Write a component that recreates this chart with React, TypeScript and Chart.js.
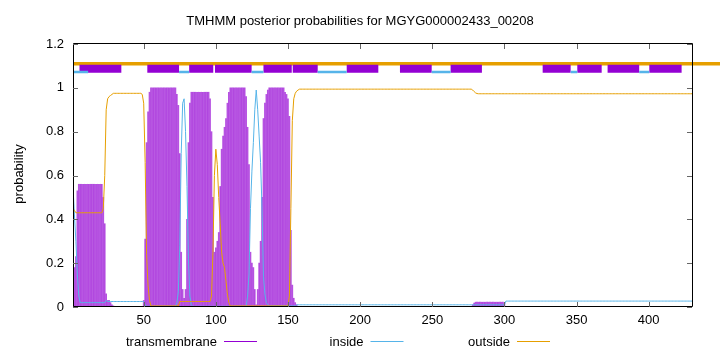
import { useEffect, useRef } from "react";
import { Chart, registerables } from "chart.js";

Chart.register(...registerables);

const TITLE = "TMHMM posterior probabilities for MGYG000002433_00208";
const Y_LABEL = "probability";
const SERIES_NAMES = ["transmembrane", "inside", "outside"];
const X_TICKS = [50, 100, 150, 200, 250, 300, 350, 400];
const Y_TICKS = [0, 0.2, 0.4, 0.6, 0.8, 1, 1.2];
const X_MIN = 1;
const X_MAX = 430;

// per-residue posterior probabilities, residues 1..430 (10 per row)
const TRANSMEMBRANE = [
  /*   1 */ 0.15, 0.18, 0.23, 0.53, 0.56, 0.56, 0.56, 0.56, 0.56, 0.56,
  /*  11 */ 0.56, 0.56, 0.56, 0.56, 0.56, 0.56, 0.56, 0.56, 0.56, 0.56,
  /*  21 */ 0.56, 0.5, 0.38, 0.06, 0.03, 0.03, 0.02, 0.01, 0.005, 0,
  /*  31 */ 0, 0, 0, 0, 0, 0, 0, 0, 0, 0,
  /*  41 */ 0, 0, 0, 0, 0, 0, 0, 0, 0, 0.03,
  /*  51 */ 0.31, 0.75, 0.89, 0.98, 1, 1, 1, 1, 1, 1,
  /*  61 */ 1, 1, 1, 1, 1, 1, 1, 1, 1, 1,
  /*  71 */ 1, 1, 0.97, 0.92, 0.7, 0.25, 0.08, 0.04, 0.08, 0.4,
  /*  81 */ 0.75, 0.93, 0.98, 0.98, 0.98, 0.98, 0.98, 0.98, 0.98, 0.98,
  /*  91 */ 0.98, 0.98, 0.98, 0.98, 0.98, 0.95, 0.8, 0.5, 0.25, 0.27,
  /* 101 */ 0.3, 0.34, 0.55, 0.72, 0.78, 0.82, 0.86, 0.93, 0.98, 1,
  /* 111 */ 1, 1, 1, 1, 1, 1, 1, 1, 1, 1,
  /* 121 */ 0.96, 0.82, 0.65, 0.25, 0.2, 0.18, 0.08, 0.01, 0.08, 0.2,
  /* 131 */ 0.3, 0.5, 0.86, 0.93, 0.97, 0.99, 1, 1, 1, 1,
  /* 141 */ 1, 1, 1, 1, 1, 1, 1, 0.98, 0.97, 0.95,
  /* 151 */ 0.87, 0.35, 0.1, 0.04, 0.02, 0.01, 0, 0, 0, 0,
  /* 161 */ 0, 0, 0, 0, 0, 0, 0, 0, 0, 0,
  /* 171 */ 0, 0, 0, 0, 0, 0, 0, 0, 0, 0,
  /* 181 */ 0, 0, 0, 0, 0, 0, 0, 0, 0, 0,
  /* 191 */ 0, 0, 0, 0, 0, 0, 0, 0, 0, 0,
  /* 201 */ 0, 0, 0, 0, 0, 0, 0, 0, 0, 0,
  /* 211 */ 0, 0, 0, 0, 0, 0, 0, 0, 0, 0,
  /* 221 */ 0, 0, 0, 0, 0, 0, 0, 0, 0, 0,
  /* 231 */ 0, 0, 0, 0, 0, 0, 0, 0, 0, 0,
  /* 241 */ 0, 0, 0, 0, 0, 0, 0, 0, 0, 0,
  /* 251 */ 0, 0, 0, 0, 0, 0, 0, 0, 0, 0,
  /* 261 */ 0, 0, 0, 0, 0, 0, 0, 0, 0, 0,
  /* 271 */ 0, 0, 0, 0, 0, 0, 0, 0.01, 0.018, 0.022,
  /* 281 */ 0.022, 0.022, 0.022, 0.022, 0.022, 0.022, 0.022, 0.022, 0.022, 0.022,
  /* 291 */ 0.022, 0.022, 0.022, 0.022, 0.022, 0.022, 0.022, 0.022, 0.022, 0.015,
  /* 301 */ 0, 0, 0, 0, 0, 0, 0, 0, 0, 0,
  /* 311 */ 0, 0, 0, 0, 0, 0, 0, 0, 0, 0,
  /* 321 */ 0, 0, 0, 0, 0, 0, 0, 0, 0, 0,
  /* 331 */ 0, 0, 0, 0, 0, 0, 0, 0, 0, 0,
  /* 341 */ 0, 0, 0, 0, 0, 0, 0, 0, 0, 0,
  /* 351 */ 0, 0, 0, 0, 0, 0, 0, 0, 0, 0,
  /* 361 */ 0, 0, 0, 0, 0, 0, 0, 0, 0, 0,
  /* 371 */ 0, 0, 0, 0, 0, 0, 0, 0, 0, 0,
  /* 381 */ 0, 0, 0, 0, 0, 0, 0, 0, 0, 0,
  /* 391 */ 0, 0, 0, 0, 0, 0, 0, 0, 0, 0,
  /* 401 */ 0, 0, 0, 0, 0, 0, 0, 0, 0, 0,
  /* 411 */ 0, 0, 0, 0, 0, 0, 0, 0, 0, 0,
  /* 421 */ 0, 0, 0, 0, 0, 0, 0, 0, 0, 0,
];

const INSIDE = [
  /*   1 */ 0.55, 0.42, 0.3, 0.15, 0.05, 0.02, 0.02, 0.02, 0.02, 0.02,
  /*  11 */ 0.02, 0.02, 0.02, 0.02, 0.02, 0.02, 0.02, 0.02, 0.02, 0.02,
  /*  21 */ 0.02, 0.02, 0.02, 0.03, 0.025, 0.025, 0.025, 0.025, 0.025, 0.025,
  /*  31 */ 0.025, 0.025, 0.025, 0.025, 0.025, 0.025, 0.025, 0.025, 0.025, 0.025,
  /*  41 */ 0.025, 0.025, 0.025, 0.025, 0.025, 0.025, 0.025, 0.025, 0.025, 0.025,
  /*  51 */ 0.01, 0.003, 0.003, 0.003, 0.003, 0.003, 0.003, 0.003, 0.003, 0.003,
  /*  61 */ 0.003, 0.003, 0.003, 0.003, 0.003, 0.003, 0.003, 0.003, 0.003, 0.003,
  /*  71 */ 0.003, 0.003, 0.02, 0.07, 0.28, 0.7, 0.93, 0.95, 0.8, 0.55,
  /*  81 */ 0.22, 0.05, 0.01, 0.003, 0.003, 0.003, 0.003, 0.003, 0.003, 0.003,
  /*  91 */ 0.003, 0.003, 0.003, 0.003, 0.003, 0.003, 0.003, 0.003, 0.003, 0.003,
  /* 101 */ 0.003, 0.003, 0.003, 0.003, 0.003, 0.003, 0.003, 0.003, 0.003, 0.003,
  /* 111 */ 0.003, 0.003, 0.003, 0.003, 0.003, 0.003, 0.003, 0.003, 0.003, 0.003,
  /* 121 */ 0.003, 0.05, 0.15, 0.45, 0.62, 0.75, 0.9, 0.99, 0.9, 0.78,
  /* 131 */ 0.66, 0.45, 0.14, 0.06, 0.02, 0.01, 0.005, 0.005, 0.005, 0.005,
  /* 141 */ 0.005, 0.005, 0.005, 0.005, 0.005, 0.005, 0.005, 0.005, 0.005, 0.005,
  /* 151 */ 0.005, 0.005, 0.005, 0.005, 0.005, 0.01, 0.01, 0.01, 0.01, 0.01,
  /* 161 */ 0.01, 0.01, 0.01, 0.01, 0.01, 0.01, 0.01, 0.01, 0.01, 0.01,
  /* 171 */ 0.01, 0.01, 0.01, 0.01, 0.01, 0.01, 0.01, 0.01, 0.01, 0.01,
  /* 181 */ 0.01, 0.01, 0.01, 0.01, 0.01, 0.01, 0.01, 0.01, 0.01, 0.01,
  /* 191 */ 0.01, 0.01, 0.01, 0.01, 0.01, 0.01, 0.01, 0.01, 0.01, 0.01,
  /* 201 */ 0.01, 0.01, 0.01, 0.01, 0.01, 0.01, 0.01, 0.01, 0.01, 0.01,
  /* 211 */ 0.01, 0.01, 0.01, 0.01, 0.01, 0.01, 0.01, 0.01, 0.01, 0.01,
  /* 221 */ 0.01, 0.01, 0.01, 0.01, 0.01, 0.01, 0.01, 0.01, 0.01, 0.01,
  /* 231 */ 0.01, 0.01, 0.01, 0.01, 0.01, 0.01, 0.01, 0.01, 0.01, 0.01,
  /* 241 */ 0.01, 0.01, 0.01, 0.01, 0.01, 0.01, 0.01, 0.01, 0.01, 0.01,
  /* 251 */ 0.01, 0.01, 0.01, 0.01, 0.01, 0.01, 0.01, 0.01, 0.01, 0.01,
  /* 261 */ 0.01, 0.01, 0.01, 0.01, 0.01, 0.01, 0.01, 0.01, 0.01, 0.01,
  /* 271 */ 0.01, 0.01, 0.01, 0.01, 0.01, 0.01, 0.01, 0.01, 0.01, 0.01,
  /* 281 */ 0.01, 0.01, 0.01, 0.01, 0.01, 0.01, 0.01, 0.01, 0.01, 0.01,
  /* 291 */ 0.01, 0.01, 0.01, 0.01, 0.01, 0.01, 0.01, 0.01, 0.01, 0.01,
  /* 301 */ 0.027, 0.027, 0.027, 0.027, 0.027, 0.027, 0.027, 0.027, 0.027, 0.027,
  /* 311 */ 0.027, 0.027, 0.027, 0.027, 0.027, 0.027, 0.027, 0.027, 0.027, 0.027,
  /* 321 */ 0.027, 0.027, 0.027, 0.027, 0.027, 0.027, 0.027, 0.027, 0.027, 0.027,
  /* 331 */ 0.027, 0.027, 0.027, 0.027, 0.027, 0.027, 0.027, 0.027, 0.027, 0.027,
  /* 341 */ 0.027, 0.027, 0.027, 0.027, 0.027, 0.027, 0.027, 0.027, 0.027, 0.027,
  /* 351 */ 0.027, 0.027, 0.027, 0.027, 0.027, 0.027, 0.027, 0.027, 0.027, 0.027,
  /* 361 */ 0.027, 0.027, 0.027, 0.027, 0.027, 0.027, 0.027, 0.027, 0.027, 0.027,
  /* 371 */ 0.027, 0.027, 0.027, 0.027, 0.027, 0.027, 0.027, 0.027, 0.027, 0.027,
  /* 381 */ 0.027, 0.027, 0.027, 0.027, 0.027, 0.027, 0.027, 0.027, 0.027, 0.027,
  /* 391 */ 0.027, 0.027, 0.027, 0.027, 0.027, 0.027, 0.027, 0.027, 0.027, 0.027,
  /* 401 */ 0.027, 0.027, 0.027, 0.027, 0.027, 0.027, 0.027, 0.027, 0.027, 0.027,
  /* 411 */ 0.027, 0.027, 0.027, 0.027, 0.027, 0.027, 0.027, 0.027, 0.027, 0.027,
  /* 421 */ 0.027, 0.027, 0.027, 0.027, 0.027, 0.027, 0.027, 0.027, 0.027, 0.027,
];

const OUTSIDE = [
  /*   1 */ 0.45, 0.44, 0.43, 0.43, 0.43, 0.43, 0.43, 0.43, 0.43, 0.43,
  /*  11 */ 0.43, 0.43, 0.43, 0.43, 0.43, 0.43, 0.43, 0.43, 0.43, 0.43,
  /*  21 */ 0.43, 0.45, 0.6, 0.9, 0.95, 0.96, 0.965, 0.97, 0.975, 0.975,
  /*  31 */ 0.975, 0.975, 0.975, 0.975, 0.975, 0.975, 0.975, 0.975, 0.975, 0.975,
  /*  41 */ 0.975, 0.975, 0.975, 0.975, 0.975, 0.975, 0.975, 0.975, 0.97, 0.93,
  /*  51 */ 0.66, 0.24, 0.1, 0.03, 0.005, 0.005, 0.005, 0.005, 0.005, 0.005,
  /*  61 */ 0.005, 0.005, 0.005, 0.005, 0.005, 0.005, 0.005, 0.005, 0.005, 0.005,
  /*  71 */ 0.005, 0.005, 0.005, 0.005, 0.025, 0.025, 0.025, 0.025, 0.025, 0.025,
  /*  81 */ 0.025, 0.025, 0.025, 0.025, 0.025, 0.025, 0.025, 0.025, 0.025, 0.025,
  /*  91 */ 0.025, 0.025, 0.025, 0.025, 0.025, 0.025, 0.05, 0.25, 0.6, 0.72,
  /* 101 */ 0.65, 0.5, 0.38, 0.25, 0.2, 0.18, 0.12, 0.06, 0.02, 0.005,
  /* 111 */ 0.005, 0.005, 0.005, 0.005, 0.005, 0.005, 0.005, 0.005, 0.005, 0.005,
  /* 121 */ 0.005, 0.005, 0.005, 0.005, 0.005, 0.005, 0.005, 0.005, 0.005, 0.005,
  /* 131 */ 0.005, 0.005, 0.005, 0.005, 0.005, 0.005, 0.005, 0.005, 0.005, 0.005,
  /* 141 */ 0.005, 0.005, 0.005, 0.005, 0.005, 0.005, 0.005, 0.005, 0.005, 0.005,
  /* 151 */ 0.05, 0.45, 0.85, 0.95, 0.975, 0.985, 0.99, 0.994, 0.994, 0.994,
  /* 161 */ 0.994, 0.994, 0.994, 0.994, 0.994, 0.994, 0.994, 0.994, 0.994, 0.994,
  /* 171 */ 0.994, 0.994, 0.994, 0.994, 0.994, 0.994, 0.994, 0.994, 0.994, 0.994,
  /* 181 */ 0.994, 0.994, 0.994, 0.994, 0.994, 0.994, 0.994, 0.994, 0.994, 0.994,
  /* 191 */ 0.994, 0.994, 0.994, 0.994, 0.994, 0.994, 0.994, 0.994, 0.994, 0.994,
  /* 201 */ 0.994, 0.994, 0.994, 0.994, 0.994, 0.994, 0.994, 0.994, 0.994, 0.994,
  /* 211 */ 0.994, 0.994, 0.994, 0.994, 0.994, 0.994, 0.994, 0.994, 0.994, 0.994,
  /* 221 */ 0.994, 0.994, 0.994, 0.994, 0.994, 0.994, 0.994, 0.994, 0.994, 0.994,
  /* 231 */ 0.994, 0.994, 0.994, 0.994, 0.994, 0.994, 0.994, 0.994, 0.994, 0.994,
  /* 241 */ 0.994, 0.994, 0.994, 0.994, 0.994, 0.994, 0.994, 0.994, 0.994, 0.994,
  /* 251 */ 0.994, 0.994, 0.994, 0.994, 0.994, 0.994, 0.994, 0.994, 0.994, 0.994,
  /* 261 */ 0.994, 0.994, 0.994, 0.994, 0.994, 0.994, 0.994, 0.994, 0.994, 0.994,
  /* 271 */ 0.994, 0.994, 0.994, 0.994, 0.994, 0.994, 0.994, 0.99, 0.983, 0.977,
  /* 281 */ 0.974, 0.973, 0.973, 0.973, 0.973, 0.973, 0.973, 0.973, 0.973, 0.973,
  /* 291 */ 0.973, 0.973, 0.973, 0.973, 0.973, 0.973, 0.973, 0.973, 0.973, 0.973,
  /* 301 */ 0.973, 0.973, 0.973, 0.973, 0.973, 0.973, 0.973, 0.973, 0.973, 0.973,
  /* 311 */ 0.973, 0.973, 0.973, 0.973, 0.973, 0.973, 0.973, 0.973, 0.973, 0.973,
  /* 321 */ 0.973, 0.973, 0.973, 0.973, 0.973, 0.973, 0.973, 0.973, 0.973, 0.973,
  /* 331 */ 0.973, 0.973, 0.973, 0.973, 0.973, 0.973, 0.973, 0.973, 0.973, 0.973,
  /* 341 */ 0.973, 0.973, 0.973, 0.973, 0.973, 0.973, 0.973, 0.973, 0.973, 0.973,
  /* 351 */ 0.973, 0.973, 0.973, 0.973, 0.973, 0.973, 0.973, 0.973, 0.973, 0.973,
  /* 361 */ 0.973, 0.973, 0.973, 0.973, 0.973, 0.973, 0.973, 0.973, 0.973, 0.973,
  /* 371 */ 0.973, 0.973, 0.973, 0.973, 0.973, 0.973, 0.973, 0.973, 0.973, 0.973,
  /* 381 */ 0.973, 0.973, 0.973, 0.973, 0.973, 0.973, 0.973, 0.973, 0.973, 0.973,
  /* 391 */ 0.973, 0.973, 0.973, 0.973, 0.973, 0.973, 0.973, 0.973, 0.973, 0.973,
  /* 401 */ 0.973, 0.973, 0.973, 0.973, 0.973, 0.973, 0.973, 0.973, 0.973, 0.973,
  /* 411 */ 0.973, 0.973, 0.973, 0.973, 0.973, 0.973, 0.973, 0.973, 0.973, 0.973,
  /* 421 */ 0.973, 0.973, 0.973, 0.973, 0.973, 0.973, 0.973, 0.973, 0.973, 0.973,
];

// predicted topology segments [start, end] in residues
const TM_SEGMENTS = [
  [5.5, 34.5], [52.5, 74.5], [81.5, 98.2], [99.4, 124.8], [133, 152.6],
  [153.3, 170.6], [190.7, 212.6], [227.6, 249.6], [262.7, 284.4],
  [326.5, 345.9], [350.5, 367.4], [371.5, 393.4], [400.4, 422.8],
];
const INSIDE_SEGMENTS = [
  [1, 11.5], [74.5, 81.5], [124.8, 133], [170.6, 190.7], [249.6, 262.7],
  [345.9, 350.5], [393.4, 400.4],
];
const OUTSIDE_SEGMENTS = [[1, 462]];
const SEG_Y = { outside: 1.11, tm: 1.087, inside: 1.072 };

const COLORS = { tm: "#9400d3", inside: "#56b4e9", outside: "#e69f00" };
const IMPULSE_COLOR = "rgba(148, 0, 211, 0.68)";
const FONT = "'Liberation Sans', Arial, sans-serif";

function segData(list: number[][], y: number) {
  const out: { x: number; y: number | null }[] = [];
  for (const [a, b] of list) {
    out.push({ x: a, y }, { x: b, y }, { x: b, y: null });
  }
  return out;
}

const decorPlugin = {
  id: "decor",
  afterDraw(chart: any) {
    const { ctx, chartArea: a, scales } = chart;
    const xs = scales.x;
    const ys = scales.y;
    ctx.save();
    // frame
    ctx.strokeStyle = "#000";
    ctx.lineWidth = 1;
    ctx.beginPath();
    ctx.rect(a.left + 0.5, a.top - 0.5, a.right - a.left, a.bottom - a.top);
    ctx.stroke();
    // inward ticks
    ctx.strokeStyle = "#666";
    ctx.beginPath();
    for (const v of Y_TICKS) {
      const y = Math.round(ys.getPixelForValue(v)) + 0.5;
      ctx.moveTo(a.left, y);
      ctx.lineTo(a.left + 5, y);
      ctx.moveTo(a.right, y);
      ctx.lineTo(a.right - 5, y);
    }
    for (const v of X_TICKS) {
      const x = Math.round(xs.getPixelForValue(v)) + 0.5;
      ctx.moveTo(x, a.bottom);
      ctx.lineTo(x, a.bottom - 5);
      ctx.moveTo(x, a.top);
      ctx.lineTo(x, a.top + 5);
    }
    ctx.stroke();
    // title
    ctx.fillStyle = "#000";
    ctx.font = `13px ${FONT}`;
    ctx.textAlign = "center";
    ctx.textBaseline = "alphabetic";
    ctx.fillText(TITLE, 360, 25);
    // y label
    ctx.save();
    ctx.translate(23, 174);
    ctx.rotate(-Math.PI / 2);
    ctx.fillText(Y_LABEL, 0, 0);
    ctx.restore();
    // legend
    const colors = [COLORS.tm, COLORS.inside, COLORS.outside];
    const textRight = [217, 363.5, 510];
    ctx.textAlign = "right";
    ctx.lineWidth = 1;
    SERIES_NAMES.forEach((name, i) => {
      ctx.fillStyle = "#000";
      ctx.fillText(name, textRight[i], 346);
      ctx.strokeStyle = colors[i];
      ctx.beginPath();
      ctx.moveTo(textRight[i] + 7, 341.5);
      ctx.lineTo(textRight[i] + 40, 341.5);
      ctx.stroke();
    });
    ctx.restore();
  },
};

export default function App() {
  const ref = useRef<HTMLCanvasElement>(null);
  useEffect(() => {
    const canvas = ref.current;
    if (!canvas) return;
    const residues = TRANSMEMBRANE.map((_, i) => i + 1);
    const chart = new Chart(canvas, {
      type: "bar",
      data: {
        datasets: [
          {
            type: "line",
            label: "inside-seg",
            data: segData(INSIDE_SEGMENTS, SEG_Y.inside),
            borderColor: COLORS.inside,
            borderWidth: 2.5,
            pointRadius: 0,
            borderCapStyle: "butt",
            order: 1,
          },
          {
            type: "line",
            label: "tm-seg",
            data: segData(TM_SEGMENTS, SEG_Y.tm),
            borderColor: COLORS.tm,
            borderWidth: 8,
            pointRadius: 0,
            borderCapStyle: "butt",
            order: 2,
          },
          {
            type: "line",
            label: "outside-seg",
            data: segData(OUTSIDE_SEGMENTS, SEG_Y.outside),
            borderColor: COLORS.outside,
            borderWidth: 3.5,
            pointRadius: 0,
            borderCapStyle: "butt",
            clip: { left: 0, top: 0, right: 40, bottom: 0 },
            order: 3,
          },
          {
            type: "line",
            label: SERIES_NAMES[2],
            data: residues.map((r, i) => ({ x: r, y: OUTSIDE[i] })),
            borderColor: COLORS.outside,
            borderWidth: 1,
            pointRadius: 0,
            order: 4,
          },
          {
            type: "line",
            label: SERIES_NAMES[1],
            data: residues.map((r, i) => ({ x: r, y: INSIDE[i] })),
            borderColor: COLORS.inside,
            borderWidth: 1,
            pointRadius: 0,
            order: 5,
          },
          {
            type: "bar",
            label: SERIES_NAMES[0],
            data: residues.map((r, i) => ({ x: r, y: TRANSMEMBRANE[i] })),
            backgroundColor: IMPULSE_COLOR,
            borderWidth: 0,
            barThickness: 1,
            order: 6,
          },
        ] as any,
      },
      options: {
        responsive: false,
        animation: false,
        events: [],
        layout: { padding: { top: 44, right: 28, bottom: 0, left: 0 } },
        plugins: {
          legend: { display: false },
          title: { display: false },
          tooltip: { enabled: false },
        },
        scales: {
          x: {
            type: "linear",
            min: X_MIN,
            max: X_MAX,
            offset: false,
            grid: { display: false, offset: false, drawTicks: false },
            border: { display: false },
            afterBuildTicks: (s: any) => {
              s.ticks = X_TICKS.map((v) => ({ value: v }));
            },
            afterFit: (s: any) => {
              s.height = 45;
            },
            ticks: {
              color: "#000",
              font: { family: FONT, size: 13 },
              padding: 6,
              maxRotation: 0,
              autoSkip: false,
            },
          },
          y: {
            type: "linear",
            min: 0,
            max: 1.2,
            grid: { display: false, drawTicks: false },
            border: { display: false },
            afterBuildTicks: (s: any) => {
              s.ticks = Y_TICKS.map((v) => ({ value: v }));
            },
            afterFit: (s: any) => {
              s.width = 73;
            },
            ticks: {
              color: "#000",
              font: { family: FONT, size: 13 },
              padding: 9,
              callback: (v: any) => String(Math.round(Number(v) * 10) / 10),
            },
          },
        },
      },
      plugins: [decorPlugin],
    });
    return () => chart.destroy();
  }, []);
  return (
    <div style={{ position: "fixed", left: 0, top: 0, width: 720, height: 352, background: "#fff" }}>
      <canvas ref={ref} width={720} height={352} />
    </div>
  );
}
